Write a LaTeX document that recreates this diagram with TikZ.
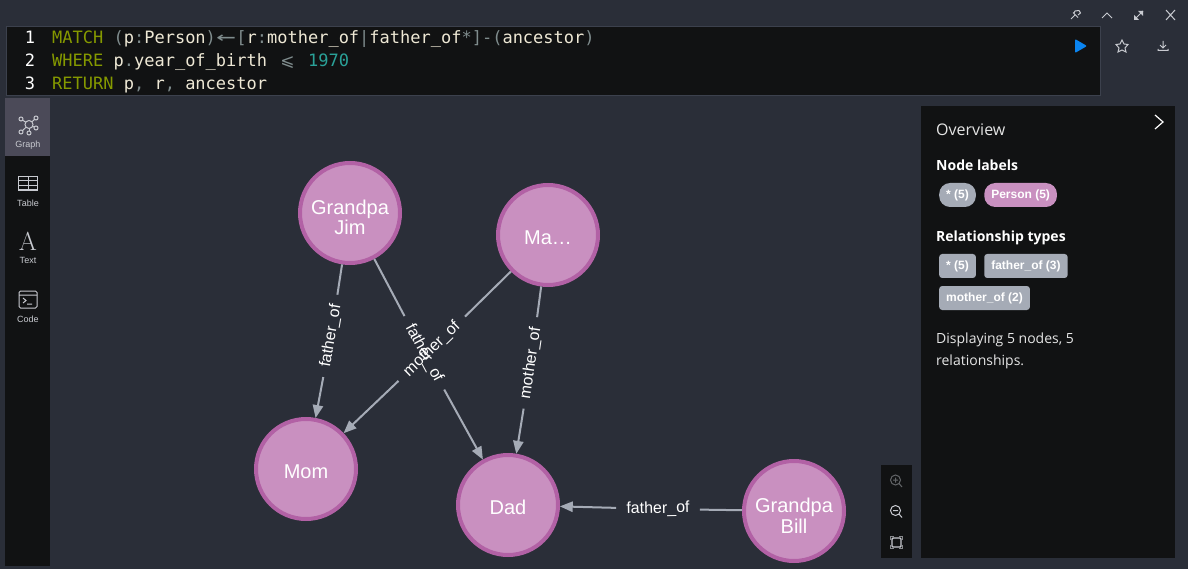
\documentclass[tikz,border=0pt]{standalone}
\usepackage{fontspec}
\usepackage{xcolor}
\usetikzlibrary{arrows, positioning}
\newfontfamily\labelfont{Liberation Sans}
\newfontfamily\codefont{DejaVu Sans Mono}
\newfontfamily\symbfont{DejaVu Sans}
\newfontfamily\panelfont{Open Sans}
\definecolor{canvas}{HTML}{2A2E38}
\definecolor{pane}{HTML}{111213}
\definecolor{paneline}{HTML}{3C414D}
\definecolor{tabactive}{HTML}{4B4A58}
\definecolor{personfill}{HTML}{C990C0}
\definecolor{personline}{HTML}{B261A5}
\definecolor{linkgray}{HTML}{A5ABB6}
\definecolor{iconcol}{HTML}{C8CAD0}
\definecolor{kwcol}{HTML}{859900}
\definecolor{numcol}{HTML}{2AA198}
\definecolor{pucol}{HTML}{7F8C8D}
\definecolor{txtcol}{HTML}{EEE8D5}
\definecolor{playblue}{HTML}{0A84F0}
\newcommand{\kw}[1]{\textcolor{kwcol}{#1}}
\newcommand{\pu}[1]{\textcolor{pucol}{#1}}
\tikzstyle{person}=[circle, draw=personline, fill=personfill, line width=4pt, minimum size=100pt, inner sep=0pt, outer sep=2pt, align=center, text=white, text height=20pt, font=\labelfont\fontsize{20}{20.5}\selectfont]
\tikzstyle{twolines}=[text height=44pt]
\tikzstyle{linklabel}=[text=white, inner xsep=10pt, inner ysep=3pt, font=\labelfont\fontsize{16}{16}\selectfont]
\tikzstyle{link}=[draw=linkgray, line width=2pt]
\tikzstyle{nodechip}=[rounded corners=11pt, fill=linkgray, text=white, minimum height=24pt, inner xsep=7pt, inner ysep=0pt, font=\labelfont\bfseries\fontsize{12}{12}\selectfont]
\tikzstyle{relchip}=[nodechip, rounded corners=3pt]
\tikzstyle{codeline}=[anchor=base west, inner sep=0pt, text=txtcol, font=\codefont\fontsize{17}{17}\selectfont]
\tikzstyle{lineno}=[anchor=base, inner sep=0pt, text=white, font=\codefont\fontsize{17}{17}\selectfont]
\tikzstyle{tablabel}=[inner sep=0pt, text=iconcol, font=\labelfont\fontsize{9}{9}\selectfont]
\tikzstyle{panelhead}=[anchor=base west, inner sep=0pt, text=white, font=\panelfont\bfseries\fontsize{14}{14}\selectfont]
\tikzstyle{panelbody}=[anchor=base west, inner sep=0pt, text=white!90!black, font=\panelfont\fontsize{14}{20}\selectfont]
\tikzstyle{icon}=[draw=iconcol, line width=1pt]
\begin{document}
\begin{tikzpicture}[x=1pt, y=-1pt, >=triangle 45]
  \useasboundingbox (0,0) rectangle (1188,569);
  \fill[canvas] (0,0) rectangle (1188,569);

  % query editor
  \draw[fill=pane, draw=paneline] (6,26) rectangle (1100,95);
  \node[lineno] (no1) at (30,44) {1};
  \node[lineno] (no2) at (30,67) {2};
  \node[lineno] (no3) at (30,90) {3};
  \node[codeline] (q1) at (52,44) {\kw{MATCH} \pu{(}p\pu{:}Person\pu{)}\makebox[20.46pt]{\pu{\scalebox{1.9}[1.15]{←}}}\pu{[}r\pu{:}mother\_of\pu{|}father\_of\pu{*]-(}ancestor\pu{)}};
  \node[codeline] (q2) at (52,67) {\kw{WHERE} p\pu{.}year\_of\_birth \makebox[20.46pt]{\pu{\symbfont ⩽}} \textcolor{numcol}{1970}};
  \node[codeline] (q3) at (52,90) {\kw{RETURN} p\pu{,} r\pu{,} ancestor};

  % window buttons
  \draw[icon] (1071,19) -- (1075,15) (1073,12.5) -- (1078,17.5) (1075,11) -- (1079,10.5) (1075,11) -- (1074,13) (1079,10.5) -- (1080.5,13) -- (1078,15);
  \draw[icon] (1102,18) -- (1107,13) -- (1112,18);
  \draw[icon] (1135,19) -- (1143,11);
  \fill[iconcol] (1134,15) -- (1134,20) -- (1139,20) -- cycle (1143,11) -- (1138,11) -- (1143,16) -- cycle;
  \draw[icon] (1166,10) -- (1175,20) (1175,10) -- (1166,20);
  \fill[playblue, rounded corners=1pt] (1075,39) -- (1087,46) -- (1075,53) -- cycle;
  \draw[icon] (1122,40) -- (1124,44) -- (1128,44.5) -- (1125,48) -- (1126,52) -- (1122,50) -- (1118,52) -- (1119,48) -- (1116,44.5) -- (1120,44) -- cycle;
  \draw[icon] (1163,41) -- (1163,47) (1160,45) -- (1163,48) -- (1166,45) (1158,49) -- (1158,50.5) -- (1168,50.5) -- (1168,49);

  % side tabs
  \fill[pane] (5,98) rectangle (50,566);
  \fill[tabactive] (5,98) rectangle (50,156);
  \foreach \px/\py in {21/119, 36/118, 21/132, 36/128, 29/133}{
    \draw[icon] (29,124.5) -- (\px,\py);
    \draw[icon, fill=tabactive] (\px,\py) circle (2pt);
  }
  \draw[icon, fill=tabactive] (29,124.5) circle (4pt);
  \node[tablabel] (tabgraph) at (28,145) {Graph};
  \draw[icon, line width=1.2pt] (18.5,176.5) rectangle (37.5,190);
  \draw[icon] (18.5,181) -- (37.5,181) (18.5,185.5) -- (37.5,185.5) (28,176.5) -- (28,190);
  \node[tablabel] (tabtable) at (28,203) {Table};
  \node[inner sep=0pt, text=iconcol, font=\rmfamily\fontsize{26}{26}\selectfont] (tabglyph) at (28,241) {A};
  \node[tablabel] (tabtext) at (28,260) {Text};
  \draw[icon, rounded corners=1.5pt] (19,291) rectangle (37,308);
  \draw[icon] (19,295) -- (37,295) (23,298) -- (26,300.5) -- (23,303) (27,304) -- (32,304);
  \node[tablabel] (tabcode) at (28,319) {Code};

  % graph nodes
  \node[person, twolines] (jim) at (350,213) {Grandpa\\Jim};
  \node[person] (ma) at (548,235) {Ma…};
  \node[person] (mom) at (306,469) {Mom};
  \node[person] (dad) at (508,505) {Dad};
  \node[person, twolines] (bill) at (794,511) {Grandpa\\Bill};

  % relationships
  \node[linklabel, rotate=80.2] (l0) at (331,336) {father\_of};
  \node[linklabel, rotate=-61.6] (l1) at (424,353) {father\_of};
  \node[linklabel, rotate=44] (l2) at (432,349) {mother\_of};
  \node[linklabel, rotate=81.6] (l3) at (531,363) {mother\_of};
  \node[linklabel, rotate=1.2] (l4) at (658,509) {father\_of};
  \draw[link] (jim) -- (l0);
  \draw[link, ->] (l0) -- (mom);
  \draw[link] (jim) -- (l1);
  \draw[link, ->] (l1) -- (dad);
  \draw[link] (ma) -- (l2);
  \draw[link, ->] (l2) -- (mom);
  \draw[link] (ma) -- (l3);
  \draw[link, ->] (l3) -- (dad);
  \draw[link] (bill) -- (l4);
  \draw[link, ->] (l4) -- (dad);

  % zoom buttons
  \fill[pane] (881,465) rectangle (912,558);
  \draw[icon, draw=iconcol!45!pane] (895.5,480) circle (5pt) (899,483.5) -- (902,487) (893,480) -- (898,480) (895.5,477.5) -- (895.5,482.5);
  \draw[icon] (895.5,510.5) circle (5pt) (899,514) -- (902,517.5) (893,510.5) -- (898,510.5);
  \draw[icon, line width=1.4pt, rounded corners=1pt] (892,538) rectangle (901,547);
  \draw[icon, draw=iconcol!65!pane] (890.5,540) -- (890.5,536.5) -- (894,536.5) (899,536.5) -- (902.5,536.5) -- (902.5,540) (902.5,545) -- (902.5,548.5) -- (899,548.5) (894,548.5) -- (890.5,548.5) -- (890.5,545);

  % overview
  \fill[pane] (921,106) rectangle (1175,558);
  \draw[draw=white, line width=1.2pt] (1155,115) -- (1163,122) -- (1155,129);
  \node[panelbody, font=\panelfont\fontsize{16}{16}\selectfont] (ovtitle) at (936,136) {Overview};
  \node[panelhead] (ovnodes) at (936,171) {Node labels};
  \node[nodechip, anchor=west] (chipall) at (939,195) {* (5)};
  \node[nodechip, fill=personfill, right=8pt of chipall] (chipperson) {Person (5)};
  \node[panelhead] (ovrels) at (936,242) {Relationship types};
  \node[relchip, anchor=west] (relall) at (939,266) {* (5)};
  \node[relchip, right=8pt of relall] (relfather) {father\_of (3)};
  \node[relchip, anchor=west] (relmother) at (939,298) {mother\_of (2)};
  \node[panelbody] (ovline1) at (936,343) {Displaying 5 nodes, 5};
  \node[panelbody] (ovline2) at (936,365) {relationships.};
\end{tikzpicture}
\end{document}
